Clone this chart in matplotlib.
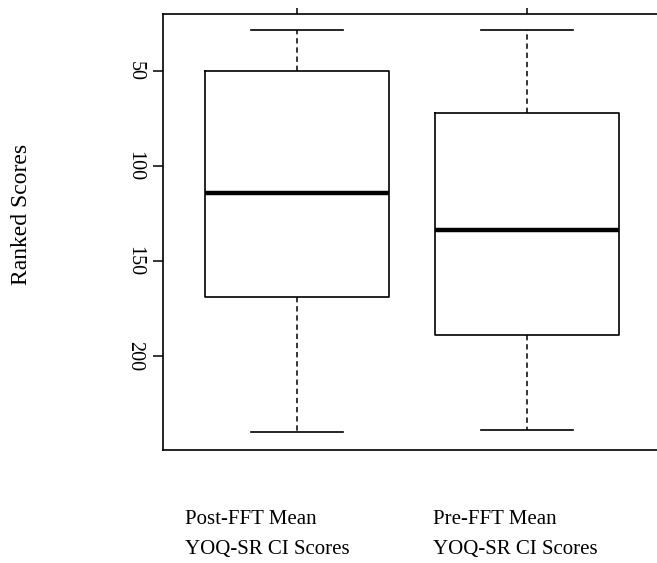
import matplotlib
matplotlib.use("Agg")
import matplotlib.pyplot as plt

# Summary values (ranked scores, axis inverted)
groups = ["Post-FFT Mean\nYOQ-SR CI Scores", "Pre-FFT Mean\nYOQ-SR CI Scores"]
whisker_low = [28.4, 28.4]
q1 = [50.0, 72.1]
median = [114.2, 133.7]
q3 = [168.8, 189.0]
whisker_high = [240.0, 239.0]
y_ticks = [50, 100, 150, 200]

plt.rcParams["font.family"] = ["Liberation Serif", "DejaVu Serif"]

fig = plt.figure(figsize=(6.57, 5.63), dpi=100)
ax = fig.add_axes([163 / 657, 113 / 563, 494 / 657, 436 / 563])

stats = []
for i in range(len(groups)):
    stats.append({
        "whislo": whisker_low[i],
        "q1": q1[i],
        "med": median[i],
        "q3": q3[i],
        "whishi": whisker_high[i],
        "fliers": [],
    })

ax.bxp(
    stats,
    positions=[1, 2],
    widths=0.8,
    showfliers=False,
    boxprops=dict(color="black", linewidth=1.2),
    medianprops=dict(color="black", linewidth=3.2, solid_capstyle="butt"),
    whiskerprops=dict(color="black", linewidth=1.1, linestyle=(0, (3.5, 2.5))),
    capprops=dict(color="black", linewidth=1.2),
    capwidths=0.4,
)

ax.set_xlim(0.417, 2.565)
ax.set_ylim(249.5, 20.0)

ax.spines["right"].set_visible(False)
for side in ["top", "left", "bottom"]:
    ax.spines[side].set_linewidth(1.2)

ax.set_yticks(y_ticks)
ax.set_yticklabels([str(v) for v in y_ticks], rotation=-90, va="center", fontsize=14.5)
ax.tick_params(axis="y", direction="out", length=7.5, width=1.1, pad=6)

ax.set_xticks([1, 2])
ax.xaxis.set_ticks_position("top")
ax.tick_params(axis="x", direction="out", length=4.5, width=1.1, labeltop=False, labelbottom=False)

# group labels sit below the plot, left aligned as in the original
label_x = [0.0445, 0.5466]
for xpos, label in zip(label_x, groups):
    ax.text(xpos, -0.138, label, transform=ax.transAxes, ha="left", va="top",
            fontsize=15, linespacing=1.8)

fig.text(22 / 657, 1 - 214 / 563, "Ranked Scores", rotation=90, ha="center", va="center",
         fontsize=17)

fig.savefig("out.png", dpi=100)
